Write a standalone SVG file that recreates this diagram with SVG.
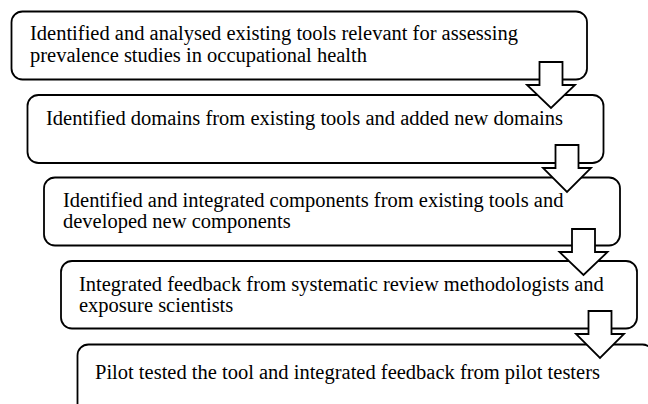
<svg xmlns="http://www.w3.org/2000/svg" width="648" height="404" viewBox="0 0 648 404">
<style>
.box{fill:#fff;stroke:#000;stroke-width:1.8}
.arr{fill:#fff;stroke:#000;stroke-width:1.8;stroke-linejoin:miter}
.t{font-family:'Liberation Serif','Times New Roman',serif;font-size:20.5px;fill:#000}
</style>
<rect width="648" height="404" fill="#fff"/>
<g id="node1"><rect class="box" x="11.5" y="11.5" width="575.5" height="68" rx="11"/>
<text class="t" x="30" y="40">Identified and analysed existing tools relevant for assessing</text>
<text class="t" x="30" y="62">prevalence studies in occupational health</text></g>
<g id="node2"><rect class="box" x="27.5" y="95" width="576" height="68" rx="11"/>
<text class="t" x="46" y="125">Identified domains from existing tools and added new domains</text></g>
<g id="node3"><rect class="box" x="44" y="177.5" width="576" height="68" rx="11"/>
<text class="t" x="63" y="207">Identified and integrated components from existing tools and</text>
<text class="t" x="63" y="228">developed new components</text></g>
<g id="node4"><rect class="box" x="61" y="261" width="576" height="67.5" rx="11"/>
<text class="t" x="79" y="291">Integrated feedback from systematic review methodologists and</text>
<text class="t" x="79" y="312">exposure scientists</text></g>
<g id="node5"><rect class="box" x="77.5" y="344.5" width="576" height="80" rx="11"/>
<text class="t" x="95" y="379">Pilot tested the tool and integrated feedback from pilot testers</text></g>
<g id="connectors">
<polygon class="arr" points="539.5,62 562.5,62 562.5,85 575,85 551,108 527,85 539.5,85"/>
<polygon class="arr" points="555.5,145 578.5,145 578.5,168 591,168 567,192 543,168 555.5,168"/>
<polygon class="arr" points="572,229 595,229 595,252 607.5,252 583.5,275 559.5,252 572,252"/>
<polygon class="arr" points="588.5,311 611.5,311 611.5,334 624,334 600,358 576,334 588.5,334"/>
</g>
</svg>
